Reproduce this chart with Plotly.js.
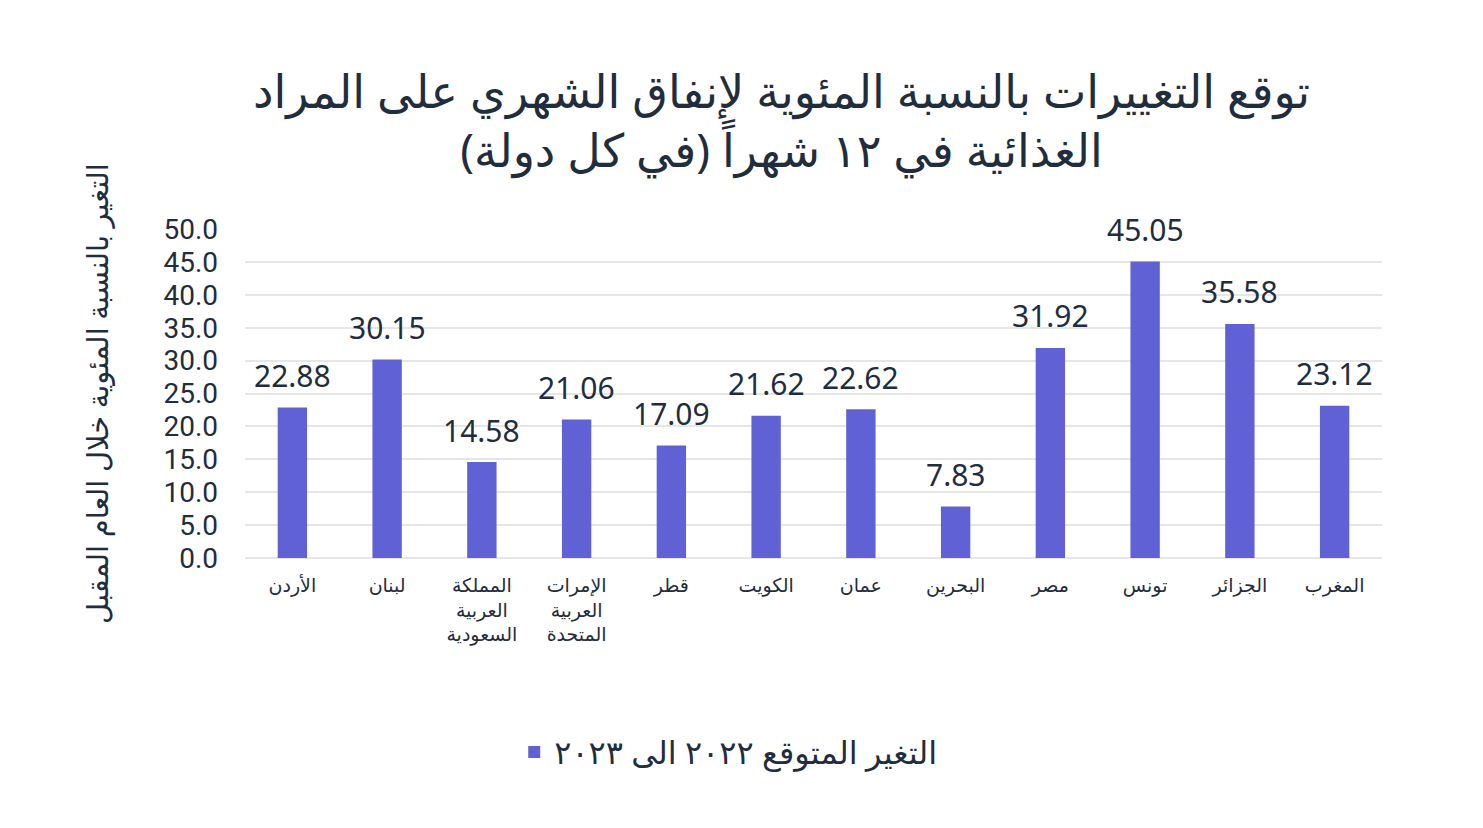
<!DOCTYPE html>
<html><head><meta charset="utf-8">
<script src="https://cdn.plot.ly/plotly-3.0.1.min.js"></script>
<style>body{margin:0;background:#fff}#c{width:1483px;height:828px}</style>
</head><body><div id="c"></div>
<script>
const categories = ["الأردن","لبنان","المملكة<br>العربية<br>السعودية","الإمرات<br>العربية<br>المتحدة","قطر","الكويت","عمان","البحرين","مصر","تونس","الجزائر","المغرب"];
const values = [22.88,30.15,14.58,21.06,17.09,21.62,22.62,7.83,31.92,45.05,35.58,23.12];
const valueLabels = ["22.88","30.15","14.58","21.06","17.09","21.62","22.62","7.83","31.92","45.05","35.58","23.12"];
const seriesName = "التغير المتوقع ٢٠٢٢ الى ٢٠٢٣";
const titleText = "توقع التغييرات بالنسبة المئوية لإنفاق الشهري على المراد<br>الغذائية في ١٢ شهراً (في كل دولة)";
const yTitle = "التغير بالنسبة المئوية خلال العام المقبل";
const tickVals = [0,5,10,15,20,25,30,35,40,45,50];

const txt = "#1f2d3d";
const font = "Noto Sans, DejaVu Sans, sans-serif";

const trace = {
  type: "bar", x: categories, y: values, name: seriesName,
  marker: {color: "#6161d6"}, width: 0.31, showlegend: true,
  hoverinfo: "skip"
};
const annotations = categories.map((c,i)=>({
  x: c, y: values[i], text: valueLabels[i], showarrow: false,
  yanchor: "middle", yshift: 32, font: {size: 30, color: txt, family: font}
}));
const layout = {
  width: 1483, height: 828,
  margin: {l: 245, r: 101, t: 229, b: 270},
  paper_bgcolor: "#fff", plot_bgcolor: "#fff",
  font: {family: font, color: txt},
  title: {text: titleText, x: 0.527, xanchor: "center", xref: "container", y: 0.87, yref: "container", yanchor: "middle",
          font: {size: 46, color: txt, family: font}},
  xaxis: {type: "category", tickfont: {size: 19, color: txt}, showgrid: false, showline: false, ticks: "",
          ticklabelstandoff: 14, automargin: false},
  yaxis: {range: [0, 50], tickvals: tickVals, tickformat: ".1f",
          tickfont: {size: 28, color: txt, family: "Roboto, Noto Sans, sans-serif"},
          gridcolor: "#e6e6e6", gridwidth: 2, zeroline: true, zerolinecolor: "#e6e6e6", zerolinewidth: 2,
          ticklabelstandoff: 26, automargin: false,
          title: {text: yTitle, font: {size: 29, color: txt}, standoff: 46}},
  legend: {orientation: "h", x: 0.425, xanchor: "center", y: -0.59, yanchor: "middle",
           font: {size: 32, color: txt}},
  annotations: annotations,
  bargap: 0.69
};
Plotly.newPlot("c", [trace], layout, {displayModeBar: false, staticPlot: true});
</script></body></html>
